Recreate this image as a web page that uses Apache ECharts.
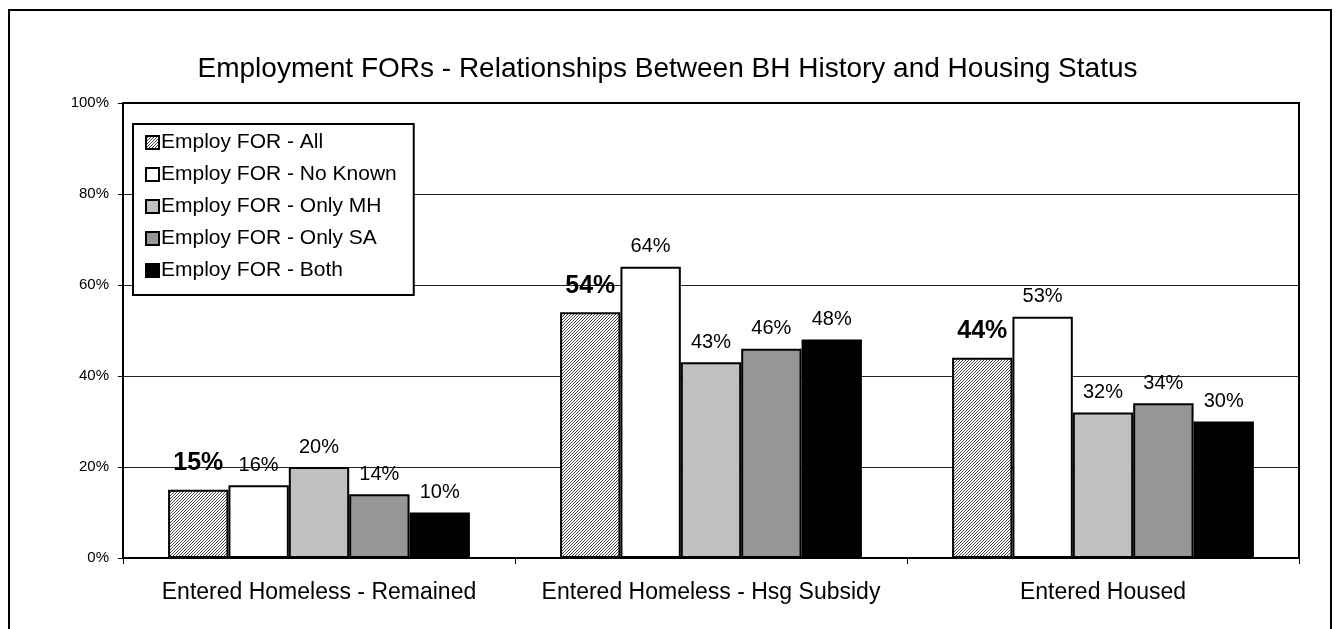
<!DOCTYPE html>
<html>
<head>
<meta charset="utf-8">
<script src="https://cdn.jsdelivr.net/npm/echarts@6/dist/echarts.min.js"></script>
<style>
  html, body { margin: 0; padding: 0; background: #fff; }
  #chart { width: 1335px; height: 629px; }
</style>
</head>
<body>
<div id="chart"></div>
<script>
// categories and series values (percent)
var categories = ['Entered Homeless - Remained', 'Entered Homeless - Hsg Subsidy', 'Entered Housed'];
var seriesNames = ['Employ FOR - All', 'Employ FOR - No Known', 'Employ FOR - Only MH', 'Employ FOR - Only SA', 'Employ FOR - Both'];
var allValues = [15, 54, 44];
var noKnownValues = [16, 64, 53];
var onlyMhValues = [20, 43, 32];
var onlySaValues = [14, 46, 34];
var bothValues = [10, 48, 30];
var yTicks = [0, 20, 40, 60, 80, 100];

// hatch pattern for the "All" series
function hatch() {
    var c = document.createElement('canvas');
    c.width = 3; c.height = 3;
    var ctx = c.getContext('2d');
    ctx.fillStyle = '#ffffff';
    ctx.fillRect(0, 0, 3, 3);
    ctx.strokeStyle = '#333333';
    ctx.lineWidth = 0.9;
    ctx.beginPath();
    ctx.moveTo(-1, 4); ctx.lineTo(4, -1);
    ctx.moveTo(-1, 1); ctx.lineTo(1, -1);
    ctx.moveTo(2, 4); ctx.lineTo(4, 2);
    ctx.stroke();
    return c;
}

var font = '"Liberation Sans", Arial, sans-serif';
var fills = [{ image: hatch(), repeat: 'repeat' }, '#ffffff', '#c0c0c0', '#969696', '#000000'];
var values = [allValues, noKnownValues, onlyMhValues, onlySaValues, bothValues];

var myChart = echarts.init(document.getElementById('chart'));

var series = [];
for (var i = 0; i < seriesNames.length; i++) {
    series.push({
        name: seriesNames[i],
        type: 'bar',
        data: values[i],
        barGap: '0%',
        barCategoryGap: '23%',
        itemStyle: { color: fills[i], borderColor: '#000', borderWidth: 2 },
        label: {
            show: true,
            position: 'top',
            distance: i === 0 ? 14 : 10,
            formatter: '{c}%',
            color: '#000',
            fontFamily: font,
            fontSize: i === 0 ? 25 : 20,
            fontWeight: i === 0 ? 'bold' : 'normal'
        }
    });
}

var option = {
    backgroundColor: '#fff',
    animation: false,
    textStyle: { fontFamily: font },
    title: {
        text: 'Employment FORs - Relationships Between BH History and Housing Status',
        left: 'center',
        top: 50,
        textStyle: { fontFamily: font, fontSize: 28, fontWeight: 'normal', color: '#000' }
    },
    graphic: [{
        type: 'rect',
        shape: { x: 9, y: 10, width: 1322, height: 660 },
        style: { fill: 'none', stroke: '#000', lineWidth: 2 },
        silent: true
    }],
    legend: {
        orient: 'vertical',
        left: 133,
        top: 124,
        backgroundColor: '#fff',
        borderColor: '#000',
        borderWidth: 2,
        padding: [8, 17, 14, 12],
        itemWidth: 13,
        itemHeight: 13,
        itemGap: 11,
        icon: 'rect',
        selectedMode: false,
        textStyle: { fontFamily: font, fontSize: 21, color: '#000', padding: [0, 0, 0, -3] },
        data: seriesNames
    },
    grid: {
        left: 123,
        right: 36,
        top: 103,
        bottom: 71,
        show: true,
        borderColor: '#000',
        borderWidth: 2,
        z: 3
    },
    xAxis: {
        type: 'category',
        data: categories,
        axisLine: { lineStyle: { color: '#000', width: 2 } },
        axisTick: { show: true, length: 6, lineStyle: { color: '#000' } },
        axisLabel: { interval: 0, fontFamily: font, fontSize: 23, color: '#000', margin: 23 }
    },
    yAxis: {
        type: 'value',
        min: yTicks[0],
        max: yTicks[yTicks.length - 1],
        interval: 20,
        axisLine: { show: true, lineStyle: { color: '#000', width: 2 } },
        axisTick: { show: true, length: 5, lineStyle: { color: '#000' } },
        axisLabel: { fontFamily: font, fontSize: 15, color: '#000', margin: 14, formatter: '{value}%' },
        splitLine: { lineStyle: { color: '#222', width: 1 } }
    },
    series: series
};

myChart.setOption(option);
</script>
</body>
</html>
